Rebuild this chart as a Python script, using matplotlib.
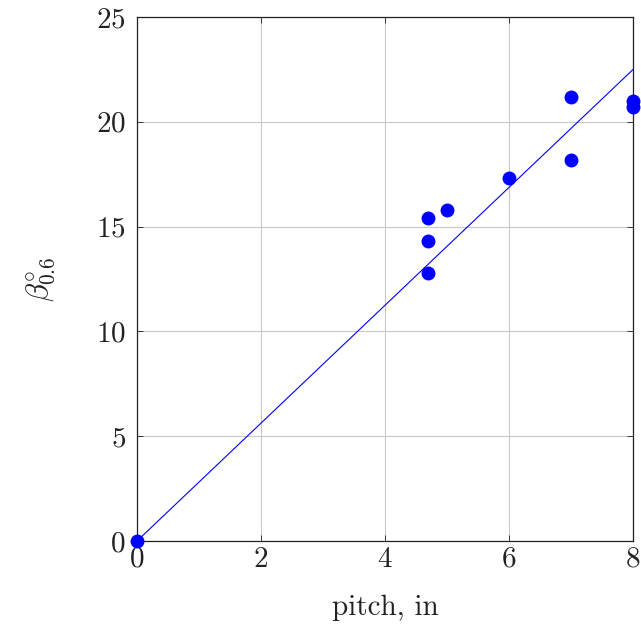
import matplotlib
matplotlib.use("Agg")
import matplotlib.pyplot as plt
import numpy as np

plt.rcParams['font.family'] = ['cmr10', 'DejaVu Serif']
plt.rcParams['mathtext.fontset'] = 'cm'
plt.rcParams['axes.formatter.use_mathtext'] = True

# measured pitch (in) and beta angle (deg)
pitch = [0, 4.7, 4.7, 4.7, 5, 6, 7, 7, 8, 8]
beta = [0, 15.4, 14.3, 12.8, 15.8, 17.3, 21.2, 18.2, 21.0, 20.7]

# fitted line through the origin
fit_x = [0, 8]
fit_y = [0, 22.5]

fig = plt.figure(figsize=(6.41, 6.28), dpi=100)
ax = fig.add_axes([0.2137, 0.1385, 0.774, 0.8344])

ax.plot(fit_x, fit_y, color='#0000ff', lw=0.8, zorder=3)
ax.plot(pitch, beta, 'o', color='#0000ff', ms=9, zorder=4, clip_on=False)

ax.set_xlim(0, 8)
ax.set_ylim(0, 25)
ax.set_xticks([0, 2, 4, 6, 8])
ax.set_yticks([0, 5, 10, 15, 20, 25])
ax.grid(True, color='#c8c8c8', lw=0.8)
ax.set_axisbelow(True)
ax.tick_params(direction='in', length=4, width=0.6, labelsize=21,
               top=True, right=True, colors='#222222')
ax.tick_params(axis='y', pad=8)
ax.tick_params(axis='x', pad=4)
for s in ax.spines.values():
    s.set_linewidth(0.9)
    s.set_color('#222222')

ax.set_xlabel('pitch, in', fontsize=21, labelpad=16, color='#222222')
ax.set_ylabel(r'$\beta^{\circ}_{0.6}$', fontsize=22, labelpad=27, color='#222222')

fig.savefig('out.png', dpi=100)
